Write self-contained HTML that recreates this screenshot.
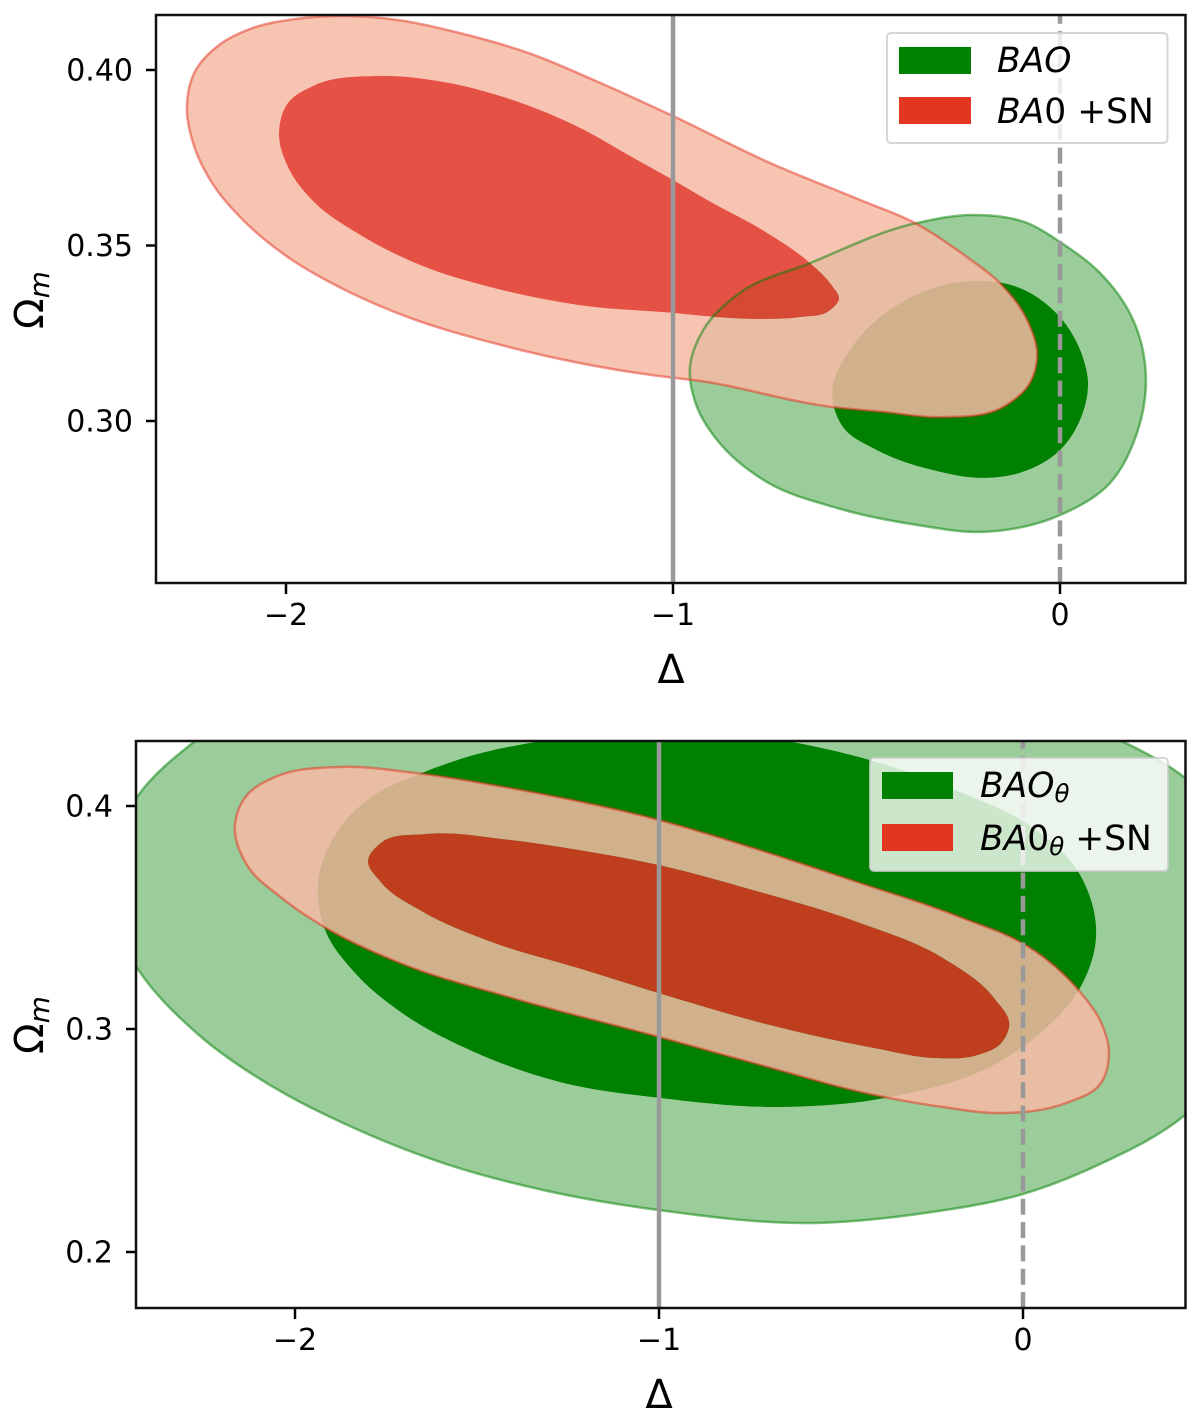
<!DOCTYPE html>
<html lang="en">
<head>
<meta charset="utf-8">
<title>Delta vs Omega_m confidence contours</title>
<style>
html,body{margin:0;padding:0;background:#fff;}
svg{display:block;font-family:"DejaVu Sans","Liberation Sans",sans-serif;}
</style>
</head>
<body>
<svg id="figure" xmlns="http://www.w3.org/2000/svg" width="1200" height="1417" viewBox="0 0 1200 1417">
  <defs>
    <clipPath id="clip-top"><rect x="156" y="15" width="1029.5" height="568"/></clipPath>
    <clipPath id="clip-bottom"><rect x="136" y="741" width="1049.5" height="567"/></clipPath>
  </defs>
  <g id="panel-top">
    <g id="plot-top" clip-path="url(#clip-top)"></g>
    <g id="axes-top"></g>
    <text x="671" y="683" font-size="40" text-anchor="middle">Δ</text>
    <text transform="translate(43,329) rotate(-90)" font-size="40">Ω<tspan font-size="28" font-style="italic" dy="6">m</tspan></text>
    <g>
      <rect x="887" y="33" width="280.500" height="110" rx="4" fill="#fff" fill-opacity="0.8" stroke="#ccc" stroke-opacity="0.8" stroke-width="2"/>
      <rect x="899" y="47" width="72" height="27" fill="#008000"/>
      <text x="997" y="72" font-size="34.500" font-style="italic">BAO</text>
      <rect x="899" y="97" width="72" height="27" fill="#e23522"/>
      <text x="997" y="123" font-size="34.500"><tspan font-style="italic">BA</tspan>0 +SN</text>
    </g>
  </g>
  <g id="panel-bottom">
    <g id="plot-bottom" clip-path="url(#clip-bottom)"></g>
    <g id="axes-bottom"></g>
    <text x="659" y="1408" font-size="40" text-anchor="middle">Δ</text>
    <text transform="translate(43,1054) rotate(-90)" font-size="40">Ω<tspan font-size="28" font-style="italic" dy="6">m</tspan></text>
    <g>
      <rect x="870" y="758" width="298" height="113" rx="4" fill="#fff" fill-opacity="0.8" stroke="#ccc" stroke-opacity="0.8" stroke-width="2"/>
      <rect x="882" y="772" width="71" height="27" fill="#008000"/>
      <text x="980" y="797" font-size="34.500" font-style="italic">BAO<tspan font-size="24.500" dy="5">θ</tspan></text>
      <rect x="882" y="824" width="71" height="27" fill="#e23522"/>
      <text x="980" y="850" font-size="34.500"><tspan font-style="italic">BA</tspan>0<tspan font-size="24.500" font-style="italic" dy="5">θ</tspan><tspan dy="-5"> +SN</tspan></text>
    </g>
  </g>
</svg>
<script>
// ---- Top panel data (Delta, Omega_m) ----
const topXTicks = [-2, -1, 0];
const topXTickLabels = ['\u22122', '\u22121', '0'];
const topYTicks = [0.30, 0.35, 0.40];
const topYTickLabels = ['0.30', '0.35', '0.40'];
const topGreenOuterDelta = [-0.956,-0.922,-0.827,-0.646,-0.370,-0.225,-0.085,0,0.103,0.189,0.222,0.199,0.129,0,-0.199,-0.370,-0.576,-0.757,-0.886,-0.938];
const topGreenOuterOmega = [0.3154,0.3259,0.3365,0.3450,0.3564,0.3587,0.3564,0.3510,0.3422,0.3288,0.3125,0.2966,0.2823,0.2732,0.2684,0.2704,0.2752,0.2826,0.2946,0.3040];
const topGreenInnerDelta = [-0.589,-0.543,-0.413,-0.225,-0.111,0,0.059,0.072,0.052,0,-0.096,-0.199,-0.328,-0.473,-0.561];
const topGreenInnerOmega = [0.3080,0.3202,0.3336,0.3399,0.3382,0.3296,0.3182,0.3117,0.3003,0.2917,0.2855,0.2838,0.2860,0.2917,0.2983];
const topRedOuterDelta = [-2.256,-2.233,-2.173,-2.085,-1.977,-1.863,-1.729,-1.550,-1.372,-1.194,-1,-0.749,-0.517,-0.375,-0.240,-0.155,-0.085,-0.059,-0.078,-0.147,-0.310,-0.457,-0.589,-0.951,-1,-1.240,-1.463,-1.685,-1.863,-1.995,-2.103,-2.191,-2.240];
const topRedOuterOmega = [0.3886,0.4000,0.4071,0.4120,0.4145,0.4154,0.4145,0.4105,0.4048,0.3966,0.3869,0.3735,0.3630,0.3564,0.3467,0.3393,0.3288,0.3182,0.3108,0.3040,0.3011,0.3026,0.3040,0.3117,0.3123,0.3165,0.3222,0.3296,0.3382,0.3467,0.3564,0.3678,0.3792];
const topRedInnerDelta = [-2.018,-1.995,-1.925,-1.765,-1.594,-1.416,-1.240,-1.106,-1,-0.912,-0.757,-0.646,-0.587,-0.571,-0.594,-0.672,-0.749,-0.886,-1,-1.240,-1.463,-1.641,-1.817,-1.925,-1.995];
const topRedInnerOmega = [0.3815,0.3906,0.3957,0.3983,0.3966,0.3915,0.3835,0.3752,0.3687,0.3630,0.3536,0.3450,0.3382,0.3350,0.3316,0.3296,0.3291,0.3296,0.3308,0.3330,0.3379,0.3439,0.3536,0.3621,0.3724];

// ---- Bottom panel data (Delta, Omega_m) ----
const bottomXTicks = [-2, -1, 0];
const bottomXTickLabels = ['\u22122', '\u22121', '0'];
const bottomYTicks = [0.2, 0.3, 0.4];
const bottomYTickLabels = ['0.2', '0.3', '0.4'];
const bottomGreenOuterDelta = [-2.434,-2.264,-2.055,-1.838,-1.602,-1.319,-1,-0.571,-0.269,0,0.206,0.445,0.624,0.665,0.445,0.272,-0.063,-0.997,-1.849,-2.275,-2.434,-2.522,-2.503];
const bottomGreenOuterOmega = [0.3274,0.2973,0.2735,0.2556,0.2404,0.2278,0.2188,0.2130,0.2175,0.2260,0.2390,0.2614,0.2951,0.3578,0.4126,0.4291,0.4498,0.4700,0.4632,0.4291,0.4040,0.3713,0.3489];
const bottomGreenInnerDelta = [-1.937,-1.915,-1.838,-1.698,-1.508,-1.272,-1,-0.665,-0.363,-0.080,0.063,0.157,0.201,0.157,0.016,-0.173,-0.420,-0.646,-0.984,-1.327,-1.508,-1.659,-1.791,-1.885];
const bottomGreenInnerOmega = [0.3646,0.3435,0.3256,0.3063,0.2897,0.2762,0.2691,0.2650,0.2695,0.2839,0.3004,0.3184,0.3422,0.3691,0.3915,0.4063,0.4206,0.4291,0.4354,0.4291,0.4229,0.4143,0.4040,0.3883];
const bottomRedOuterDelta = [-2.165,-2.132,-2.055,-1.885,-1.668,-1.412,-1,-0.742,-0.456,-0.173,0.016,0.157,0.214,0.236,0.212,0.118,-0.060,-0.220,-0.409,-0.742,-1,-1.412,-1.698,-1.915,-2.036,-2.132];
const bottomRedOuterOmega = [0.3915,0.4049,0.4130,0.4175,0.4148,0.4081,0.3937,0.3812,0.3659,0.3502,0.3368,0.3166,0.3031,0.2897,0.2753,0.2668,0.2623,0.2650,0.2704,0.2848,0.2964,0.3143,0.3287,0.3453,0.3587,0.3735];
const bottomRedInnerDelta = [-1.799,-1.764,-1.640,-1.412,-1.223,-1,-0.742,-0.456,-0.220,-0.080,-0.038,-0.060,-0.126,-0.239,-0.409,-0.695,-1,-1.223,-1.459,-1.648,-1.764];
const bottomRedInnerOmega = [0.3758,0.3834,0.3874,0.3848,0.3803,0.3735,0.3623,0.3480,0.3318,0.3139,0.3018,0.2937,0.2883,0.2870,0.2915,0.3018,0.3161,0.3274,0.3390,0.3525,0.3659];

// ---- Reference lines ----
const solidReferenceDelta = -1;
const dashedReferenceDelta = 0;

// ---- Axis functions ----
function xTop(d) { return 1060 + 387 * d; }
function yTop(o) { return 421 - (o - 0.30) * 3510; }
function xBottom(d) { return 1023 + 364 * d; }
function yBottom(o) { return 1029 - (o - 0.30) * 2230; }

const SVGNS = 'http://www.w3.org/2000/svg';

function smoothPath(deltas, omegas, xf, yf) {
  const px = deltas.map(xf);
  const py = omegas.map(yf);
  const n = px.length;
  const tx = [], ty = [];
  for (let i = 0; i < n; i++) {
    const a = (i - 1 + n) % n, b = (i + 1) % n;
    const la = Math.hypot(px[i] - px[a], py[i] - py[a]) || 1;
    const lb = Math.hypot(px[b] - px[i], py[b] - py[i]) || 1;
    const vx = lb * (px[i] - px[a]) / la + la * (px[b] - px[i]) / lb;
    const vy = lb * (py[i] - py[a]) / la + la * (py[b] - py[i]) / lb;
    const lv = Math.hypot(vx, vy) || 1;
    tx.push(vx / lv);
    ty.push(vy / lv);
  }
  let d = 'M' + px[0].toFixed(1) + ' ' + py[0].toFixed(1);
  for (let i = 0; i < n; i++) {
    const b = (i + 1) % n;
    const len = Math.hypot(px[b] - px[i], py[b] - py[i]) / 3;
    d += 'C' + (px[i] + tx[i] * len).toFixed(1) + ' ' + (py[i] + ty[i] * len).toFixed(1) + ' ' +
         (px[b] - tx[b] * len).toFixed(1) + ' ' + (py[b] - ty[b] * len).toFixed(1) + ' ' +
         px[b].toFixed(1) + ' ' + py[b].toFixed(1);
  }
  return d + 'Z';
}

function addPath(parent, name, d, fill, fillOpacity, stroke, strokeOpacity) {
  const el = document.createElementNS(SVGNS, 'path');
  
  
  el.setAttribute('d', d);
  el.setAttribute('fill', fill);
  el.setAttribute('fill-rule', 'evenodd');
  if (fill !== 'none') el.setAttribute('fill-opacity', fillOpacity);
  if (stroke) {
    el.setAttribute('stroke', stroke);
    el.setAttribute('stroke-opacity', strokeOpacity);
    el.setAttribute('stroke-width', '2.5');
  }
  parent.appendChild(el);
}

function addLine(parent, name, x1, y1, x2, y2, color, width, dash) {
  const el = document.createElementNS(SVGNS, 'line');
  
  
  el.setAttribute('x1', x1);
  el.setAttribute('y1', y1);
  el.setAttribute('x2', x2);
  el.setAttribute('y2', y2);
  el.setAttribute('stroke', color);
  el.setAttribute('stroke-width', width);
  if (dash) el.setAttribute('stroke-dasharray', dash);
  parent.appendChild(el);
}

function addText(parent, name, x, y, anchor, content) {
  const el = document.createElementNS(SVGNS, 'text');
  
  
  el.setAttribute('x', x);
  el.setAttribute('y', y);
  el.setAttribute('font-size', '30');
  el.setAttribute('text-anchor', anchor);
  el.textContent = content;
  parent.appendChild(el);
}

function drawContours(plot, prefix, xf, yf, s) {
  const gOuter = smoothPath(s.gOD, s.gOO, xf, yf);
  const gInner = smoothPath(s.gID, s.gIO, xf, yf);
  const rOuter = smoothPath(s.rOD, s.rOO, xf, yf);
  const rInner = smoothPath(s.rID, s.rIO, xf, yf);
  addPath(plot, prefix + '-green-outer-contour', gOuter + gInner, '#9bcd9b', 1);
  addPath(plot, prefix + '-green-inner-contour', gInner, '#008000', 1);
  addPath(plot, prefix + '-red-outer-contour', rOuter + rInner, 'rgb(246,186,164)', 0.85);
  addPath(plot, prefix + '-red-inner-contour', rInner, 'rgb(225,50,35)', 0.85);
  addPath(plot, prefix + '-green-outer-edge', gOuter, 'none', 0, 'rgb(0,128,0)', 0.5);
  addPath(plot, prefix + '-red-outer-edge', rOuter, 'none', 0, 'rgb(227,50,31)', 0.5);
}

function drawAxes(axes, prefix, xf, yf, box, xTicks, xLabels, yTicks, yLabels, xLabelY, yLabelX) {
  xTicks.forEach(function (t, i) {
    addLine(axes, prefix + '-x-tick', xf(t), box.bottom, xf(t), box.bottom + 11, '#000', 2.5);
    addText(axes, prefix + '-x-tick-label', xf(t), xLabelY, 'middle', xLabels[i]);
  });
  yTicks.forEach(function (t, i) {
    addLine(axes, prefix + '-y-tick', box.left - 10, yf(t), box.left, yf(t), '#000', 2.5);
    addText(axes, prefix + '-y-tick-label', yLabelX, yf(t) + 10.500, 'end', yLabels[i]);
  });
  const frame = document.createElementNS(SVGNS, 'rect');
  
  
  frame.setAttribute('x', box.left);
  frame.setAttribute('y', box.top);
  frame.setAttribute('width', box.right - box.left);
  frame.setAttribute('height', box.bottom - box.top);
  frame.setAttribute('fill', 'none');
  frame.setAttribute('stroke', '#111');
  frame.setAttribute('stroke-width', '2.5');
  axes.appendChild(frame);
}

// ---- Top panel ----
const plotTop = document.getElementById('plot-top');
drawContours(plotTop, 'top', xTop, yTop, {
  gOD: topGreenOuterDelta, gOO: topGreenOuterOmega,
  gID: topGreenInnerDelta, gIO: topGreenInnerOmega,
  rOD: topRedOuterDelta, rOO: topRedOuterOmega,
  rID: topRedInnerDelta, rIO: topRedInnerOmega
});
addLine(plotTop, 'top-solid-reference-line', xTop(solidReferenceDelta), 583, xTop(solidReferenceDelta), 15, '#999', 4.5);
addLine(plotTop, 'top-dashed-reference-line', xTop(dashedReferenceDelta), 583, xTop(dashedReferenceDelta), 15, '#999', 4.5, '16 7.3');
drawAxes(document.getElementById('axes-top'), 'top', xTop, yTop,
  { left: 156, right: 1185.5, top: 15, bottom: 583 },
  topXTicks, topXTickLabels, topYTicks, topYTickLabels, 625, 133);

// ---- Bottom panel ----
const plotBottom = document.getElementById('plot-bottom');
drawContours(plotBottom, 'bottom', xBottom, yBottom, {
  gOD: bottomGreenOuterDelta, gOO: bottomGreenOuterOmega,
  gID: bottomGreenInnerDelta, gIO: bottomGreenInnerOmega,
  rOD: bottomRedOuterDelta, rOO: bottomRedOuterOmega,
  rID: bottomRedInnerDelta, rIO: bottomRedInnerOmega
});
addLine(plotBottom, 'bottom-solid-reference-line', xBottom(solidReferenceDelta), 1308, xBottom(solidReferenceDelta), 741, '#999', 4.5);
addLine(plotBottom, 'bottom-dashed-reference-line', xBottom(dashedReferenceDelta), 1308, xBottom(dashedReferenceDelta), 741, '#999', 4.5, '16 7.3');
drawAxes(document.getElementById('axes-bottom'), 'bottom', xBottom, yBottom,
  { left: 136, right: 1185.5, top: 741, bottom: 1308 },
  bottomXTicks, bottomXTickLabels, bottomYTicks, bottomYTickLabels, 1350, 113);
</script>
</body>
</html>
